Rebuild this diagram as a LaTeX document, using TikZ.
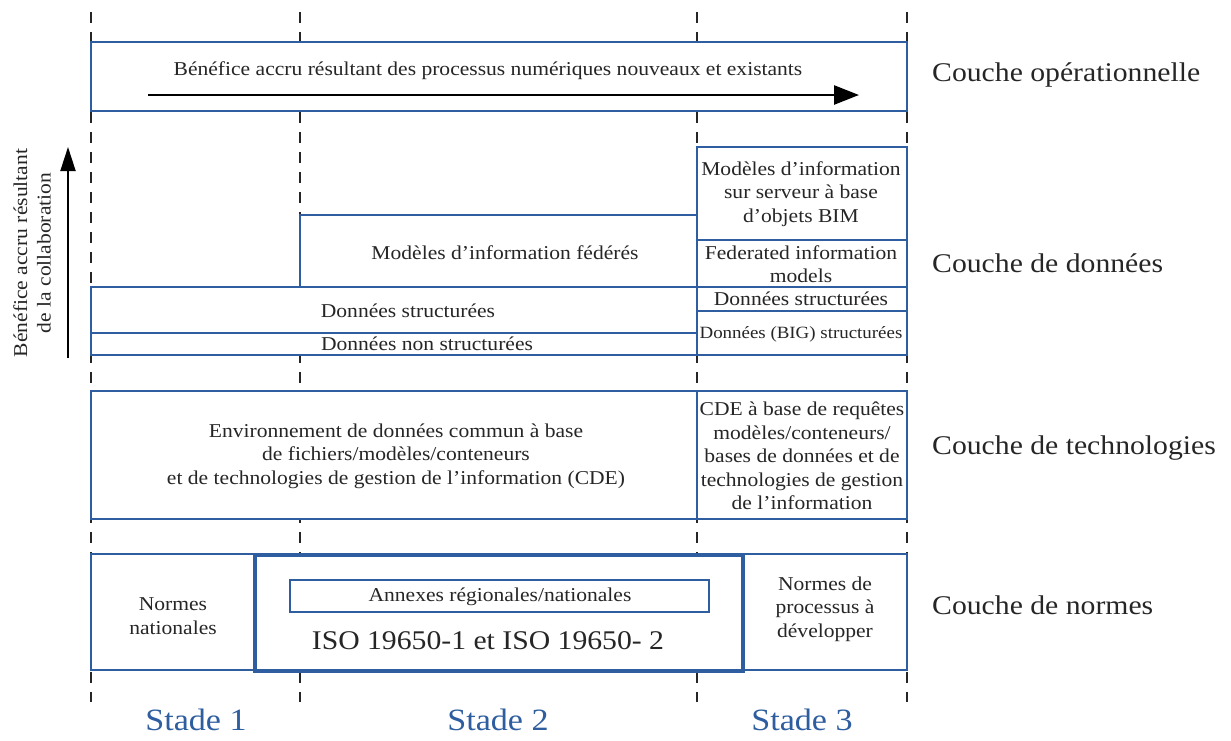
\documentclass[tikz,border=0pt]{standalone}
\usepackage{fontspec}
\setmainfont{Liberation Serif}[FakeStretch=1.1]
\usetikzlibrary{arrows.meta}
\definecolor{frameblue}{RGB}{46,94,160}
\definecolor{inktext}{RGB}{38,38,38}
\begin{document}
\begin{tikzpicture}[x=1pt,y=-1pt,
  frame/.style={draw=frameblue, line width=2pt, fill=white},
  thickframe/.style={draw=frameblue, line width=3.6pt},
  cell/.style={draw=frameblue, line width=1.3pt},
  body/.style={font=\fontsize{19.6}{23.5}\selectfont, text=inktext, align=center, inner sep=0pt},
  layer/.style={font=\fontsize{27}{30}\selectfont, text=inktext, anchor=west, inner sep=0pt},
  stage/.style={font=\fontsize{31}{34}\selectfont, text=frameblue, inner sep=0pt},
  guide/.style={draw=black!85, line width=2pt, dash pattern=on 11pt off 9pt},
  bigarrow/.style={draw=black, line width=2.5pt, -{Triangle[length=25pt,width=19pt]}},
]
\useasboundingbox (0,0) rectangle (1231,740);
\fill[white] (0,0) rectangle (1231,740);

% stage separators
\foreach \gx/\gn in {91/a,300/b,697/c,907/d} {
  \coordinate (top\gn) at (\gx,12);
  \coordinate (bot\gn) at (\gx,702);
  \draw[guide] (top\gn) -- (bot\gn);
}

% operational layer
\draw[frame] (91,42) rectangle (907,111);
\node[body] (optext) at (488,71) {Bénéfice accru résultant des processus numériques nouveaux et existants};
\coordinate (opstart) at (148,95);
\coordinate (opend) at (859,95);
\draw[bigarrow] (opstart) -- (opend);

% collaboration axis
\coordinate (colbase) at (68,358);
\coordinate (coltop) at (68,147);
\draw[draw=black, line width=2pt, -{Triangle[length=24pt,width=15pt]}] (colbase) -- (coltop);
\node[body, rotate=90] (coltext) at (32,253) {Bénéfice accru résultant\\de la collaboration};

% data layer
\draw[frame] (697,147) rectangle (907,355);
\draw[frame] (300,215) rectangle (697,287);
\draw[frame] (91,287) rectangle (697,355);
\draw[cell] (697,240) -- (907,240);
\draw[cell] (697,287) -- (907,287);
\draw[cell] (697,311) -- (907,311);
\draw[cell] (91,333) -- (697,333);
\node[body] (fed) at (505,253) {Modèles d’information fédérés};
\node[body] (struct) at (408,311) {Données structurées};
\node[body] (unstruct) at (427,344) {Données non structurées};
\node[body] (server) at (801,194) {Modèles d’information\\sur serveur à base\\d’objets BIM};
\node[body] (fedeng) at (801,264) {Federated information\\models};
\node[body] (struct3) at (801,299) {Données structurées};
\node[body, font=\fontsize{17.2}{22}\selectfont] (big) at (801,334) {Données (BIG) structurées};

% technology layer
\draw[frame] (91,391) rectangle (907,519);
\draw[cell] (697,391) -- (697,519);
\node[body] (cdefile) at (396,456) {Environnement de données commun à base\\de fichiers/modèles/conteneurs\\et de technologies de gestion de l’information (CDE)};
\node[body] (cdequery) at (802,456) {CDE à base de requêtes\\modèles/conteneurs/\\bases de données et de\\technologies de gestion\\de l’information};

% standards layer
\draw[frame] (91,554) rectangle (907,670);
\draw[thickframe] (255,555) rectangle (743,671);
\draw[cell] (290,580) rectangle (709,612);
\node[body] (national) at (173,616) {Normes\\nationales};
\node[body] (annex) at (500,597) {Annexes régionales/nationales};
\node[body, font=\fontsize{27}{30}\selectfont] (iso) at (488,641) {ISO 19650-1 et ISO 19650- 2};
\node[body] (process) at (825,609) {Normes de\\processus à\\développer};

% layer names
\node[layer] (lop) at (932,75) {Couche opérationnelle};
\node[layer] (ldata) at (932,263) {Couche de données};
\node[layer] (ltech) at (932,448) {Couche de technologies};
\node[layer] (lnorm) at (932,605) {Couche de normes};

% stage names
\node[stage] (s1) at (196,720) {Stade 1};
\node[stage] (s2) at (498,720) {Stade 2};
\node[stage] (s3) at (802,720) {Stade 3};
\end{tikzpicture}
\end{document}
